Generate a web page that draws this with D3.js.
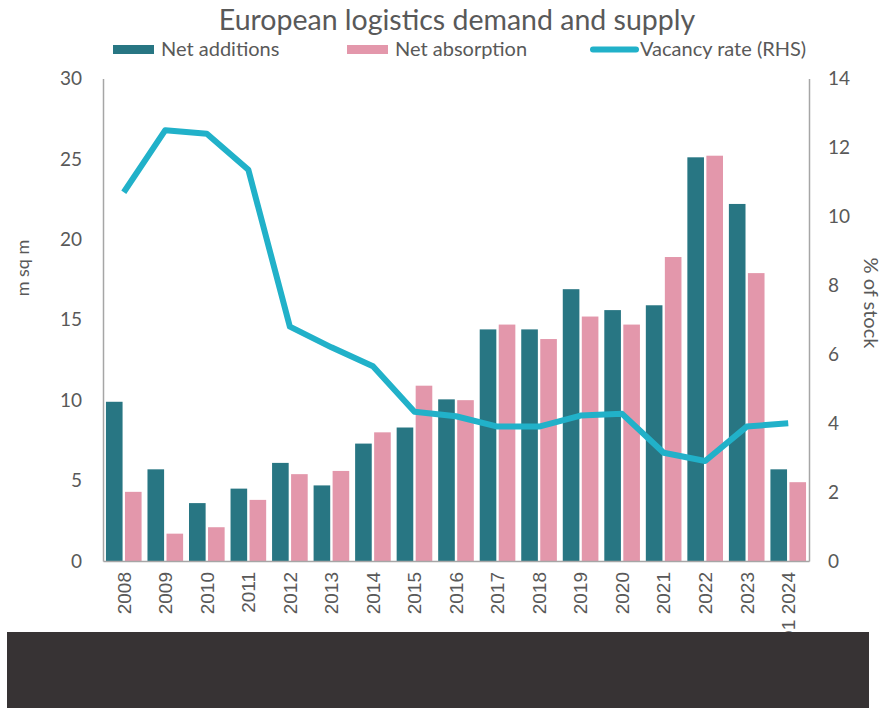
<!DOCTYPE html>
<html>
<head>
<meta charset="utf-8">
<script src="https://cdn.jsdelivr.net/npm/d3@7"></script>
<style>
  body { margin: 0; background: #fff; }
  text { font-family: Lato, "Open Sans", sans-serif; fill: #595959; }
</style>
</head>
<body>
<script>
// data
var years = ['2008', '2009', '2010', '2011', '2012', '2013', '2014', '2015', '2016',
             '2017', '2018', '2019', '2020', '2021', '2022', '2023', 'Q1 2024'];
var netAdditions  = [9.9, 5.7, 3.6, 4.5, 6.1, 4.7, 7.3, 8.3, 10.05, 14.4, 14.4, 16.9, 15.6, 15.9, 25.1, 22.2, 5.7];
var netAbsorption = [4.3, 1.7, 2.1, 3.8, 5.4, 5.6, 8.0, 10.9, 10.0, 14.7, 13.8, 15.2, 14.7, 18.9, 25.2, 17.9, 4.9];
var vacancyRate   = [10.7, 12.5, 12.4, 11.35, 6.8, 6.2, 5.65, 4.33, 4.2, 3.9, 3.9, 4.22, 4.27, 3.14, 2.9, 3.9, 4.0];
var leftTicks  = [0, 5, 10, 15, 20, 25, 30];
var rightTicks = [0, 2, 4, 6, 8, 10, 12, 14];

var seriesNames = ['Net additions', 'Net absorption'];
var colors = { 'Net additions': '#287683', 'Net absorption': '#e397ab' };
var lineColor = '#21b1c9';

var W = 884, H = 708;
var plotL = 103, plotR = 809, plotT = 78.5, plotB = 561;

var svg = d3.select('body').append('svg')
    .attr('width', W)
    .attr('height', H);

var x = d3.scaleBand().domain(years).range([plotL, plotR]).padding(0);
var xInner = d3.scaleBand().domain(seriesNames).range([0, x.bandwidth()])
    .paddingInner(0.126).paddingOuter(0.155);
var yL = d3.scaleLinear().domain([0, 30]).range([plotB, plotT]);
var yR = d3.scaleLinear().domain([0, 14]).range([plotB, plotT]);

// bars
var rows = years.map(function(y, i) {
  return { year: y, vals: [
    { name: 'Net additions', v: netAdditions[i] },
    { name: 'Net absorption', v: netAbsorption[i] }
  ]};
});

svg.append('g').selectAll('g')
  .data(rows)
  .enter().append('g')
    .attr('transform', d => 'translate(' + x(d.year) + ',0)')
  .selectAll('rect')
  .data(d => d.vals)
  .enter().append('rect')
    .attr('x', d => xInner(d.name))
    .attr('width', xInner.bandwidth())
    .attr('y', d => yL(d.v))
    .attr('height', d => yL(0) - yL(d.v))
    .attr('fill', d => colors[d.name]);

// vacancy line
var line = d3.line()
    .x((d, i) => x(years[i]) + x.bandwidth() / 2)
    .y(d => yR(d));

svg.append('path')
    .datum(vacancyRate)
    .attr('d', line)
    .attr('fill', 'none')
    .attr('stroke', lineColor)
    .attr('stroke-width', 6)
    .attr('stroke-linejoin', 'round');

// axes
var axisColor = '#a6a6a6';

var leftAxis = svg.append('g')
    .attr('transform', 'translate(' + plotL + ',0)')
    .call(d3.axisLeft(yL).tickValues(leftTicks).tickSize(0).tickPadding(21));
var rightAxis = svg.append('g')
    .attr('transform', 'translate(' + plotR + ',0)')
    .call(d3.axisRight(yR).tickValues(rightTicks).tickSize(0).tickPadding(19));
var bottomAxis = svg.append('g')
    .attr('transform', 'translate(0,' + plotB + ')')
    .call(d3.axisBottom(x).tickSize(0).tickSizeOuter(0));

[leftAxis, rightAxis, bottomAxis].forEach(function(a) {
  a.select('.domain').attr('stroke', axisColor).attr('stroke-width', 1.5);
});
leftAxis.selectAll('text').style('font-family', 'Lato').style('font-size', '19px').attr('fill', '#595959');
rightAxis.selectAll('text').style('font-family', 'Lato').style('font-size', '19px').attr('fill', '#595959');

bottomAxis.selectAll('text')
    .style('font-family', '"Liberation Sans", Arial, sans-serif')
    .style('font-size', '19px')
    .attr('fill', '#595959')
    .attr('text-anchor', 'end')
    .attr('transform', 'rotate(-90)')
    .attr('x', -11)
    .attr('y', 0)
    .attr('dy', '0.36em');

// axis titles
svg.append('text')
    .attr('transform', 'translate(23,268) rotate(-90)')
    .attr('text-anchor', 'middle')
    .attr('dy', '0.35em')
    .style('font-size', '18px')
    .text('m sq m');

svg.append('text')
    .attr('transform', 'translate(871,303) rotate(90)')
    .attr('text-anchor', 'middle')
    .attr('dy', '0.35em')
    .style('font-size', '20px')
    .text('% of stock');

// title
svg.append('text')
    .attr('x', 457)
    .attr('y', 30)
    .attr('text-anchor', 'middle')
    .style('font-size', '28.5px')
    .text('European logistics demand and supply');

// legend
var legend = svg.append('g');
legend.append('rect').attr('x', 113).attr('y', 45).attr('width', 41).attr('height', 9).attr('fill', colors['Net additions']);
legend.append('text').attr('x', 161).attr('y', 56).style('font-size', '20px').text('Net additions');
legend.append('rect').attr('x', 347).attr('y', 45).attr('width', 41).attr('height', 9).attr('fill', colors['Net absorption']);
legend.append('text').attr('x', 395).attr('y', 56).style('font-size', '20px').text('Net absorption');
legend.append('line').attr('x1', 593).attr('x2', 636).attr('y1', 49.5).attr('y2', 49.5)
    .attr('stroke', lineColor).attr('stroke-width', 6).attr('stroke-linecap', 'round');
legend.append('text').attr('x', 640).attr('y', 56).style('font-size', '20px').text('Vacancy rate (RHS)');

// dark band at the bottom
svg.append('rect')
    .attr('x', 7)
    .attr('y', 632)
    .attr('width', 862)
    .attr('height', H - 632)
    .attr('fill', '#373334');
</script>
</body>
</html>
